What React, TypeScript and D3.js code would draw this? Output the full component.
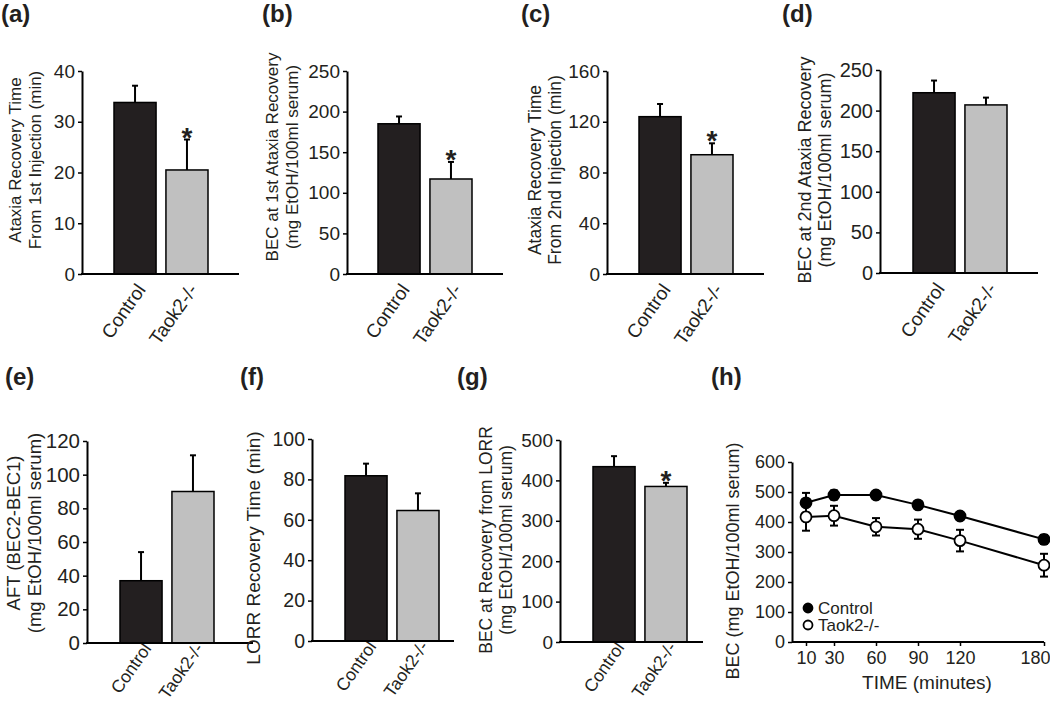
import React, { useRef, useEffect } from 'react';
import * as d3 from 'd3';

// groups shown in every bar panel
const groups = ["Control", "Taok2-/-"];

// bar panels, mean and upper SEM
const ataxia1Mean = [33.8, 20.5];
const ataxia1Err = [3.3, 6.0];
const bec1Mean = [185, 117];
const bec1Err = [9, 21];
const ataxia2Mean = [124, 94];
const ataxia2Err = [10, 9];
const bec2Mean = [222, 207];
const bec2Err = [15, 9];
const aftMean = [37, 90];
const aftErr = [17, 21.5];
const lorrMean = [81.8, 64.6];
const lorrErr = [6, 8.5];
const becLorrMean = [434, 385];
const becLorrErr = [26, 9];

// panel (h) time course
const times = [10, 30, 60, 90, 120, 180];
const ctrlMean = [464, 490, 490, 457, 420, 342];
const ctrlErr = [33, 15, 12, 9, 13, 15];
const taokMean = [417, 421, 384, 376, 338, 256];
const taokErr = [46, 33, 29, 32, 36, 38];

const FONT = "'Liberation Sans', Arial, sans-serif";
const INK = "#231f20";
const fills = ["#231f20", "#c0c0c0"];

// layout of each bar panel (pixels); fs = tick font, lfs = axis title font, cfs = category font
const barPanels = [
  { tag: "(a)", tagX: 1, tagY: 22, mean: ataxia1Mean, err: ataxia1Err, star: true, yMax: 40, yStep: 10,
    ylabel: ["Ataxia Recovery Time", "From 1st Injection (min)"], labX: [15, 35], labY: 160,
    axisX: 82, axisEnd: 239, barStart: 114, yTop: 71, yBottom: 274, fs: 19, lfs: 17, cfs: 19, catDy: 12 },
  { tag: "(b)", tagX: 262, tagY: 22, mean: bec1Mean, err: bec1Err, star: true, yMax: 250, yStep: 50,
    ylabel: ["BEC at 1st Ataxia Recovery", "(mg EtOH/100ml serum)"], labX: [272, 292], labY: 157,
    axisX: 347, axisEnd: 503, barStart: 378, yTop: 71, yBottom: 274, fs: 19, lfs: 17, cfs: 19, catDy: 12 },
  { tag: "(c)", tagX: 521, tagY: 22, mean: ataxia2Mean, err: ataxia2Err, star: true, yMax: 160, yStep: 40,
    ylabel: ["Ataxia Recovery Time", "From 2nd Injection (min)"], labX: [535, 555], labY: 170,
    axisX: 607, axisEnd: 764, barStart: 639, yTop: 71, yBottom: 274, fs: 19, lfs: 17.5, cfs: 19, catDy: 12 },
  { tag: "(d)", tagX: 782, tagY: 22, mean: bec2Mean, err: bec2Err, star: false, yMax: 250, yStep: 50,
    ylabel: ["BEC at 2nd Ataxia Recovery", "(mg EtOH/100ml serum)"], labX: [805, 825], labY: 170,
    axisX: 880, axisEnd: 1038, barStart: 913, yTop: 70, yBottom: 273, fs: 20, lfs: 18, cfs: 19, catDy: 12 },
  { tag: "(e)", tagX: 5, tagY: 385, mean: aftMean, err: aftErr, star: false, yMax: 120, yStep: 20,
    ylabel: ["AFT (BEC2-BEC1)", "(mg EtOH/100ml serum)"], labX: [14, 35], labY: 533,
    axisX: 87, axisEnd: 253, barStart: 120, yTop: 441, yBottom: 643, fs: 20.5, lfs: 18.5, cfs: 17.5, catDy: 2 },
  { tag: "(f)", tagX: 240, tagY: 385, mean: lorrMean, err: lorrErr, star: false, yMax: 100, yStep: 20,
    ylabel: ["LORR Recovery Time (min)"], labX: [253], labY: 548,
    axisX: 312, axisEnd: 454, barStart: 345, yTop: 439, yBottom: 641, fs: 19.5, lfs: 19, cfs: 17.5, catDy: 2 },
  { tag: "(g)", tagX: 457, tagY: 385, mean: becLorrMean, err: becLorrErr, star: true, yMax: 500, yStep: 100,
    ylabel: ["BEC at Recovery from LORR", "(mg EtOH/100ml serum)"], labX: [486, 506], labY: 540,
    axisX: 560, axisEnd: 703, barStart: 593, yTop: 440, yBottom: 642, fs: 19, lfs: 17.5, cfs: 17.5, catDy: 2 },
];

function drawBarPanel(svg, p) {
  const y = d3.scaleLinear().domain([0, p.yMax]).range([p.yBottom, p.yTop]);
  const x = d3.scaleBand().domain(groups).range([p.barStart, p.barStart + 94]).paddingInner(0.19);
  const g = svg.append("g");

  g.append("text").attr("x", p.tagX).attr("y", p.tagY)
    .attr("font-size", 24).attr("font-weight", "bold").attr("fill", INK).text(p.tag);

  // y label, one text per line
  p.ylabel.forEach((line, i) => {
    g.append("text")
      .attr("transform", `translate(${p.labX[i]},${p.labY}) rotate(-90)`)
      .attr("text-anchor", "middle").attr("dy", "0.35em")
      .attr("font-size", p.lfs).attr("fill", INK).text(line);
  });

  // bars
  g.selectAll("rect.bar").data(p.mean).join("rect")
    .attr("class", "bar")
    .attr("x", (d, i) => x(groups[i]))
    .attr("y", d => y(d))
    .attr("width", x.bandwidth())
    .attr("height", d => p.yBottom - y(d))
    .attr("fill", (d, i) => fills[i])
    .attr("stroke", "#000").attr("stroke-width", 1.5);

  // upper error bars
  p.mean.forEach((m, i) => {
    const cx = x(groups[i]) + x.bandwidth() / 2;
    const top = y(m + p.err[i]);
    g.append("line").attr("x1", cx).attr("x2", cx).attr("y1", y(m)).attr("y2", top)
      .attr("stroke", "#000").attr("stroke-width", 2);
    g.append("line").attr("x1", cx - 3).attr("x2", cx + 3).attr("y1", top).attr("y2", top)
      .attr("stroke", "#000").attr("stroke-width", 2);
    if (p.star && i == 1) {
      g.append("text").attr("x", cx).attr("y", top + 7).attr("text-anchor", "middle")
        .attr("font-size", 28).attr("font-weight", "bold").attr("fill", INK).text("*");
    }
    // category label
    g.append("text")
      .attr("transform", `translate(${cx + 6},${p.yBottom + p.catDy}) rotate(-55)`)
      .attr("text-anchor", "end").attr("dy", "0.35em")
      .attr("font-size", p.cfs).attr("fill", INK).text(groups[i]);
  });

  // axes
  const ga = g.append("g").attr("transform", `translate(${p.axisX},0)`)
    .call(d3.axisLeft(y).tickValues(d3.range(0, p.yMax + 1, p.yStep)).tickSize(4).tickSizeOuter(0).tickPadding(3));
  ga.select(".domain").attr("stroke-width", 2);
  ga.selectAll(".tick line").attr("stroke-width", 1.5);
  ga.selectAll(".tick text").attr("font-size", p.fs).attr("font-family", FONT).attr("fill", INK);
  g.append("line").attr("x1", p.axisX - 1).attr("x2", p.axisEnd)
    .attr("y1", p.yBottom).attr("y2", p.yBottom).attr("stroke", "#000").attr("stroke-width", 2);
}

function drawTimeCourse(svg) {
  const x = d3.scaleLinear().domain([0, 180]).range([792, 1044]);
  const y = d3.scaleLinear().domain([0, 600]).range([642, 462]);
  const g = svg.append("g");

  g.append("text").attr("x", 711).attr("y", 385)
    .attr("font-size", 24).attr("font-weight", "bold").attr("fill", INK).text("(h)");
  g.append("text").attr("transform", `translate(733,561) rotate(-90)`)
    .attr("text-anchor", "middle").attr("dy", "0.35em")
    .attr("font-size", 18).attr("fill", INK).text("BEC (mg EtOH/100ml serum)");
  g.append("text").attr("x", 927).attr("y", 689).attr("text-anchor", "middle")
    .attr("font-size", 19).attr("fill", INK).text("TIME (minutes)");

  const ya = g.append("g").attr("transform", "translate(792,0)")
    .call(d3.axisLeft(y).tickValues(d3.range(0, 601, 100)).tickSize(4).tickSizeOuter(0).tickPadding(3));
  const xa = g.append("g").attr("transform", "translate(0,642)")
    .call(d3.axisBottom(x).tickValues(times).tickSize(4).tickSizeOuter(0).tickPadding(5));
  [ya, xa].forEach(a => {
    a.select(".domain").attr("stroke-width", 2);
    a.selectAll(".tick line").attr("stroke-width", 1.5);
    a.selectAll(".tick text").attr("font-size", 18).attr("font-family", FONT).attr("fill", INK);
  });
  xa.select(".domain").attr("d", `M${x(0)},0H${x(180)}`);
  // last label sits against the right edge of the figure
  xa.selectAll(".tick text").filter(d => d === 180).attr("dx", -9);

  const series = [
    { mean: ctrlMean, err: ctrlErr, fill: "#000" },
    { mean: taokMean, err: taokErr, fill: "#fff" },
  ];
  const line = d3.line<number>().x((d, i) => x(times[i])).y(d => y(d));
  series.forEach(s => {
    g.append("path").attr("d", line(s.mean)).attr("fill", "none")
      .attr("stroke", "#000").attr("stroke-width", 2);
    s.mean.forEach((m, i) => {
      const cx = x(times[i]);
      const lo = y(m - s.err[i]);
      const hi = y(m + s.err[i]);
      g.append("line").attr("x1", cx).attr("x2", cx).attr("y1", lo).attr("y2", hi)
        .attr("stroke", "#000").attr("stroke-width", 2);
      [lo, hi].forEach(v => g.append("line").attr("x1", cx - 4).attr("x2", cx + 4)
        .attr("y1", v).attr("y2", v).attr("stroke", "#000").attr("stroke-width", 2));
    });
  });
  series.forEach(s => {
    g.selectAll(null).data(s.mean).join("circle")
      .attr("cx", (d, i) => x(times[i])).attr("cy", d => y(d)).attr("r", 5.5)
      .attr("fill", s.fill).attr("stroke", "#000").attr("stroke-width", 1.8);
  });

  // legend
  const legend = [
    { label: groups[0], fill: "#000", y: 608 },
    { label: groups[1], fill: "#fff", y: 625 },
  ];
  legend.forEach(l => {
    g.append("circle").attr("cx", 808).attr("cy", l.y).attr("r", 4.5)
      .attr("fill", l.fill).attr("stroke", "#000").attr("stroke-width", 1.8);
    g.append("text").attr("x", 818).attr("y", l.y).attr("dy", "0.35em")
      .attr("font-size", 17).attr("fill", INK).text(l.label);
  });
}

export default function App() {
  const ref = useRef(null);
  useEffect(() => {
    const svg = d3.select(ref.current);
    svg.selectAll("*").remove();
    barPanels.forEach(p => drawBarPanel(svg, p));
    drawTimeCourse(svg);
  }, []);

  return (
    <svg ref={ref} width={1050} height={708}
      style={{ position: "absolute", left: 0, top: 0, fontFamily: FONT, background: "#fff" }} />
  );
}
